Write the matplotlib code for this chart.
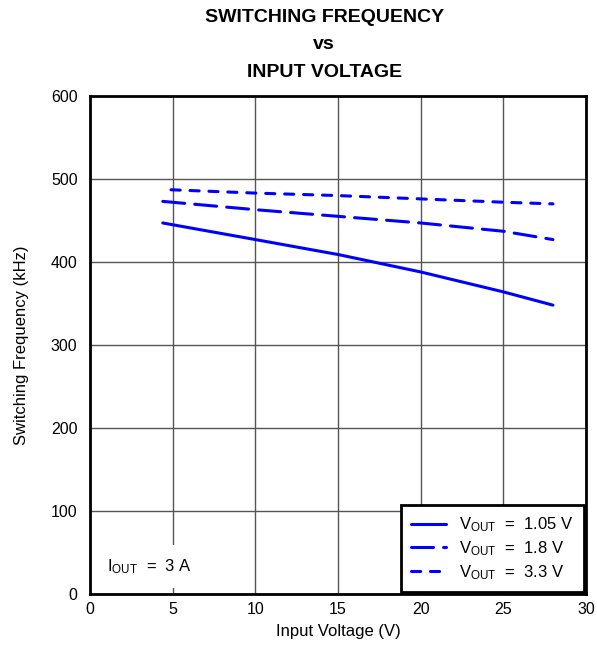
import matplotlib
matplotlib.use("Agg")
import matplotlib.pyplot as plt

plt.rcParams["font.family"] = ["Liberation Sans", "DejaVu Sans"]
plt.rcParams["mathtext.fontset"] = "custom"
plt.rcParams["mathtext.rm"] = "Liberation Sans"
plt.rcParams["mathtext.it"] = "Liberation Sans:italic"
plt.rcParams["mathtext.bf"] = "Liberation Sans:bold"

# input voltage (V) / switching frequency (kHz)
vin_105 = [4.4, 10, 15, 20, 25, 28]
fsw_105 = [447, 427, 409, 388, 364, 348]

vin_18 = [4.4, 10, 15, 20, 25, 28]
fsw_18 = [473, 463, 455, 447, 437, 427]

vin_33 = [4.9, 10, 15, 20, 25, 28]
fsw_33 = [487, 483, 480, 476, 472, 470]

labels = [r"V$_{\mathrm{OUT}}$  =  1.05 V",
          r"V$_{\mathrm{OUT}}$  =  1.8 V",
          r"V$_{\mathrm{OUT}}$  =  3.3 V"]

fig = plt.figure(figsize=(5.97, 6.48), dpi=100)
ax = fig.add_axes([0.1508, 0.0833, 0.8308, 0.7686])

lw = 2.2
ax.plot(vin_105, fsw_105, color="#0000FF", lw=lw, label=labels[0],
        solid_capstyle="round")
ax.plot(vin_18, fsw_18, color="#0000FF", lw=lw, label=labels[1],
        dashes=(7.2, 3.3), dash_capstyle="round")
ax.plot(vin_33, fsw_33, color="#0000FF", lw=lw, label=labels[2],
        dashes=(3.0, 3.2), dash_capstyle="round")

ax.set_xlim(0, 30)
ax.set_ylim(0, 600)
ax.set_xticks(range(0, 31, 5))
ax.set_yticks(range(0, 601, 100))
ax.grid(True, color="#555555", lw=1.0)
ax.set_axisbelow(True)
ax.tick_params(length=0, labelsize=11.5)
ax.tick_params(axis="x", pad=6)
ax.tick_params(axis="y", pad=9)
for s in ax.spines.values():
    s.set_linewidth(2.0)
    s.set_zorder(5)

ax.set_xlabel("Input Voltage (V)", fontsize=12, labelpad=5)
ax.set_ylabel("Switching Frequency (kHz)", fontsize=12, labelpad=16)

fig.text(0.543, 0.986, "SWITCHING FREQUENCY\nvs\nINPUT VOLTAGE",
         ha="center", va="top", fontsize=14, fontweight="bold",
         linespacing=1.8)

ax.text(1.0, 22, r"I$_{\mathrm{OUT}}$  =  3 A", fontsize=12, va="bottom",
        ha="left", zorder=3,
        bbox=dict(facecolor="white", edgecolor="none", pad=9))

leg = ax.legend(loc="lower right", fontsize=12, handlelength=2.1,
                handletextpad=0.8, fancybox=False, framealpha=1,
                edgecolor="black", borderaxespad=0.15, labelspacing=0.3,
                borderpad=0.6)
leg.get_frame().set_linewidth(2.0)
leg.set_zorder(6)

fig.savefig("out.png", dpi=100)
